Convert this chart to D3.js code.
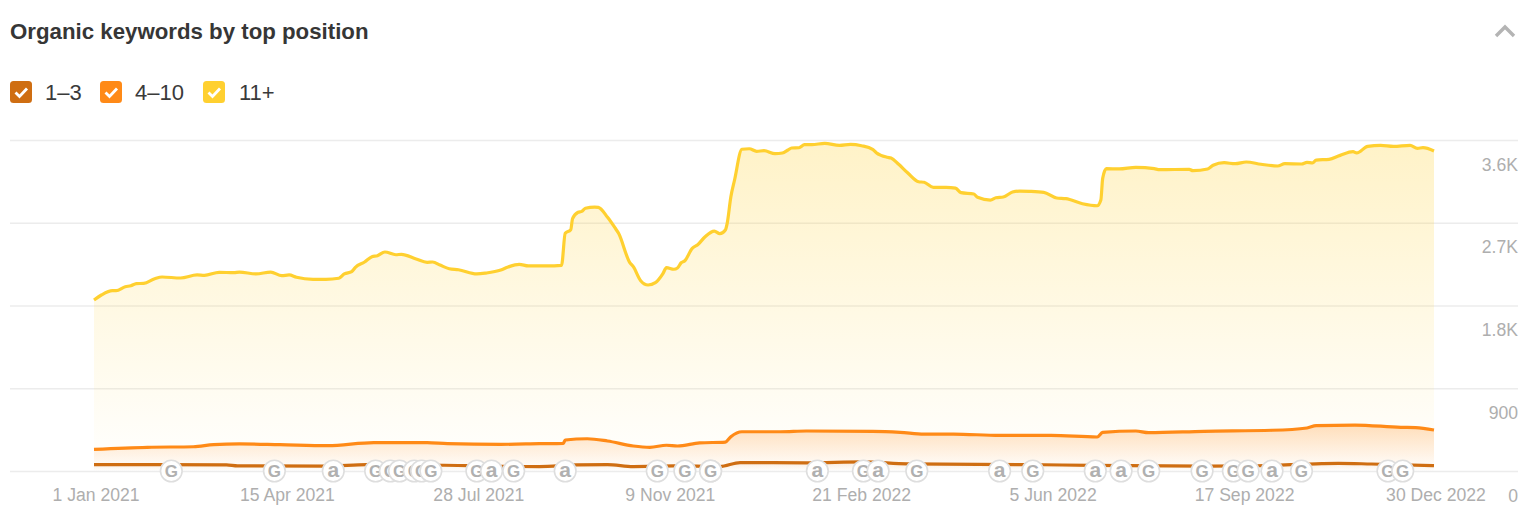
<!DOCTYPE html>
<html><head><meta charset="utf-8">
<script src="https://cdn.jsdelivr.net/npm/d3@7"></script>
<style>html,body{margin:0;padding:0;background:#fff;overflow:hidden}svg{display:block;font-family:"Liberation Sans",Arial,sans-serif}</style>
</head><body><svg id="c" width="1532" height="526"></svg>
<script>
const startDate = "2021-01-01", endDate = "2022-12-30";
const xTickLabels = ["1 Jan 2021","15 Apr 2021","28 Jul 2021","9 Nov 2021","21 Feb 2022","5 Jun 2022","17 Sep 2022","30 Dec 2022"];
const xTickDays = [0,104,208,312,416,520,624,728];
const yTicks = [0,900,1800,2700,3600];
const yTickLabels = ["0","900","1.8K","2.7K","3.6K"];
const legendNames = ["1–3","4–10","11+"];

const daysTop = [0,4,10,12,17,20,23,27,33,37,47,56,60,68,76,79,88,96,102,106,110,119,126,133,136,140,142,147,151,154,158,164,167,175,181,184,188,193,198,208,213,221,225,231,236,246,254,256,259,260,263,265,267,272,274,279,283,285,291,293,297,301,305,309,311,315,317,319,321,325,328,332,337,340,343,344,346,348,352,356,360,364,370,374,377,379,383,386,390,397,405,411,417,423,425,431,433,437,442,448,451,456,463,468,471,478,480,487,490,494,499,503,508,516,523,528,537,545,547,548,550,557,566,576,579,595,597,605,608,614,620,626,634,643,647,656,659,662,664,671,677,684,686,692,699,706,715,719,722,728];
const valuesTop = [1860,1914,1961,1961,2004,2015,2037,2041,2091,2110,2099,2132,2128,2161,2157,2164,2143,2164,2124,2132,2107,2085,2085,2096,2143,2168,2215,2273,2331,2342,2382,2352,2357,2306,2270,2273,2240,2200,2189,2143,2153,2186,2219,2248,2230,2230,2237,2585,2624,2744,2814,2824,2857,2871,2868,2759,2646,2585,2270,2222,2070,2023,2048,2143,2211,2194,2208,2265,2287,2422,2461,2548,2610,2581,2621,2694,2983,3165,3499,3505,3477,3484,3451,3459,3491,3513,3516,3549,3549,3564,3542,3553,3538,3499,3462,3412,3404,3339,3244,3146,3140,3085,3085,3076,3027,3013,2977,2947,2972,2980,3034,3045,3042,3031,2969,2962,2907,2885,2947,3183,3288,3285,3303,3288,3277,3281,3266,3285,3325,3353,3342,3361,3336,3317,3342,3339,3357,3350,3382,3390,3433,3473,3459,3531,3542,3531,3542,3510,3516,3480];

const daysMid = [0,29,54,65,79,101,127,152,181,192,221,242,255,256,268,279,293,302,311,317,329,343,346,352,373,387,423,438,451,467,492,520,545,548,566,573,603,640,659,664,685,710,718,728];
const valuesMid = [236,258,264,286,294,286,275,308,308,297,290,297,301,337,351,326,272,258,280,272,305,315,373,427,427,435,432,421,402,402,387,387,370,421,435,417,432,443,468,494,500,475,472,446];

const daysLow = [0,36,72,78,127,148,203,242,262,279,293,315,340,351,387,418,442,503,516,542,603,632,667,676,694,728];
const valuesLow = [70,70,67,56,52,70,59,48,67,70,48,56,48,92,89,99,78,70,68,61,54,57,81,83,76,59];

const eventDays = [42,98,130,153,161,166,174,178,183,208,216,228,256,306,321,335,335,393,418,426,447,492,510,544,558,573,602,619,627,640,656,703,711];
const eventKinds = ["G","G","a","G","G","G","G","G","G","G","a","G","a","G","G","G","G","a","G","a","G","a","G","a","a","G","G","G","G","a","G","G","G"];

const colors = {low:"#cf6e12", mid:"#ff8a17", top:"#ffd030"};
const legendColors = [colors.low, colors.mid, colors.top];

const svg = d3.select("#c");
const t0 = d3.isoParse(startDate);
const toDate = d => d3.utcDay.offset(t0, d);
const x = d3.scaleUtc().domain([t0, d3.isoParse(endDate)]).range([94,1434]);
const y = d3.scaleLinear().domain([0,3600]).range([471,140]);

const defs = svg.append("defs");
function grad(id, col, y1, y2, o1, o2){
  const g = defs.append("linearGradient").attr("id",id).attr("gradientUnits","userSpaceOnUse")
    .attr("x1",0).attr("x2",0).attr("y1",y1).attr("y2",y2);
  g.append("stop").attr("offset",0).attr("stop-color",col).attr("stop-opacity",o1);
  g.append("stop").attr("offset",1).attr("stop-color",col).attr("stop-opacity",o2);
}
grad("gTop", colors.top, y(3600), y(0), 0.27, 0);
grad("gMid", colors.mid, y(500), y(0), 0.27, 0);
grad("gLow", colors.low, y(105), y(0), 0.10, 0);

// title
svg.append("text").attr("x",10).attr("y",39).attr("font-size",22.25).attr("font-weight",700).attr("fill","#363636").text("Organic keywords by top position");
svg.append("path").attr("d","M1496 36 L1505 27 L1514 36").attr("fill","none").attr("stroke","#b4b4b4").attr("stroke-width",3.4);

// legend
const legendBoxX = [10,100,203], legendTextX = [45,135,239];
legendNames.forEach((n,i)=>{
  svg.append("rect").attr("x",legendBoxX[i]).attr("y",81).attr("width",22).attr("height",22).attr("rx",3.5).attr("fill",legendColors[i]);
  svg.append("path").attr("d",`M${legendBoxX[i]+5.5} 92.5 l4 4 l7.5 -8`).attr("fill","none").attr("stroke","#fff").attr("stroke-width",2.8);
  svg.append("text").attr("x",legendTextX[i]).attr("y",100).attr("font-size",22).attr("fill","#3a3a3a").text(n);
});

// axes
const yAxis = d3.axisRight(y).tickValues(yTicks).tickSize(-1508).tickFormat((d,i)=>yTickLabels[i]);
const gy = svg.append("g").attr("transform","translate(1518,0)").call(yAxis);
gy.select(".domain").remove();
gy.selectAll("line").attr("stroke","#ececec").attr("stroke-width",1.4);
gy.selectAll("text").attr("x",0).attr("dy",0).attr("y",30).attr("text-anchor","end")
  .attr("font-size",17.6).attr("font-family","inherit").attr("fill","#aeaeae");

const xAxis = d3.axisBottom(x).tickValues(xTickDays.map(toDate)).tickSize(0).tickFormat((d,i)=>xTickLabels[i]);
const gx = svg.append("g").attr("transform","translate(1.5,0)").call(xAxis);
gx.select(".domain").remove();
gx.selectAll("text").attr("y",501).attr("dy",0).attr("text-anchor","middle")
  .attr("font-size",17.6).attr("font-family","inherit").attr("fill","#aeaeae");

// series
const series = [
  {days:daysTop, vals:valuesTop, col:colors.top, g:"gTop"},
  {days:daysMid, vals:valuesMid, col:colors.mid, g:"gMid"},
  {days:daysLow, vals:valuesLow, col:colors.low, g:"gLow"}
];
series.forEach(s=>{
  const data = s.days.map((d,i)=>({t:toDate(d), v:s.vals[i]}));
  svg.append("path").datum(data).attr("fill",`url(#${s.g})`)
    .attr("d",d3.area().curve(d3.curveMonotoneX).x(d=>x(d.t)).y0(y(0)).y1(d=>y(d.v)));
  svg.append("path").datum(data).attr("fill","none").attr("stroke",s.col).attr("stroke-width",3.2)
    .attr("stroke-linejoin","round")
    .attr("d",d3.line().curve(d3.curveMonotoneX).x(d=>x(d.t)).y(d=>y(d.v)));
});

// events
const ev = svg.append("g").selectAll("g").data(eventDays.map((d,i)=>({t:toDate(d),k:eventKinds[i]}))).join("g")
  .attr("transform",d=>`translate(${x(d.t)},${y(0)})`);
ev.append("circle").attr("r",10.8).attr("fill","#fff").attr("stroke","#dedede").attr("stroke-width",1.6);
ev.append("text").attr("text-anchor","middle").attr("y",d=>d.k==="G"?6:5.5).attr("font-size",d=>d.k==="G"?17:21).attr("font-weight",700).attr("fill","#b0b0b0").text(d=>d.k);
</script></body></html>
